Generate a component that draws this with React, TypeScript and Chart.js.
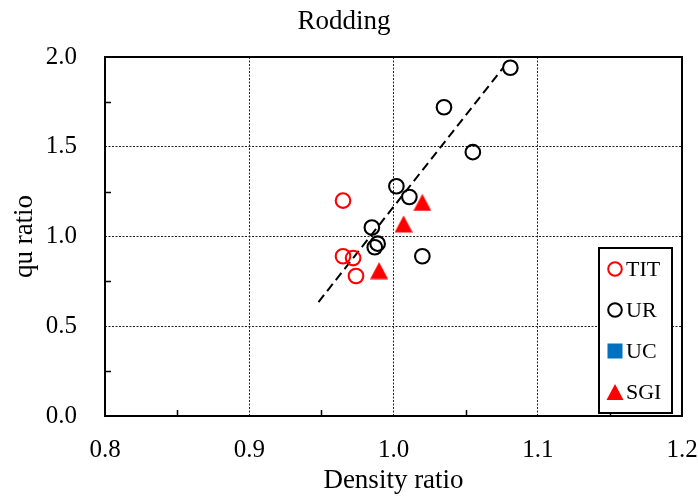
import React, { useEffect, useRef } from 'react';
import { Chart, registerables } from 'chart.js';

Chart.register(...registerables);

// ---- data ----
const titDensity = [0.965, 0.965, 0.972, 0.974];
const titQu = [1.2, 0.89, 0.88, 0.78];

const urDensity = [1.081, 1.035, 1.055, 1.002, 1.011, 0.985, 0.987, 0.989, 1.02];
const urQu = [1.94, 1.72, 1.47, 1.28, 1.22, 1.05, 0.94, 0.96, 0.89];

const ucDensity: number[] = [];
const ucQu: number[] = [];

const sgiDensity = [1.02, 1.007, 0.99];
const sgiQu = [1.19, 1.07, 0.81];

const trendDensity = [0.948, 1.076];
const trendQu = [0.635, 1.94];

const xTickValues = [0.8, 0.9, 1.0, 1.1, 1.2];
const yTickValues = [0.0, 0.5, 1.0, 1.5, 2.0];
const xMinorTicks = [0.85, 0.95, 1.05, 1.15];
const yMinorTicks = [0.25, 0.75, 1.25, 1.75];

const seriesLabels = ['TIT', 'UR', 'UC', 'SGI'];

const SERIF = '"Liberation Serif", "Times New Roman", serif';
const RED = '#FF0000';
const BLUE = '#0070C0';

const pts = (xs: number[], ys: number[]) => xs.map((x, i) => ({ x, y: ys[i] }));

function triangleSprite(color: string, size: number): HTMLCanvasElement {
  const c = document.createElement('canvas');
  c.width = size;
  c.height = size;
  const g = c.getContext('2d')!;
  g.fillStyle = color;
  g.beginPath();
  g.moveTo(size / 2, 0.5);
  g.lineTo(size, size - 0.5);
  g.lineTo(0, size - 0.5);
  g.closePath();
  g.fill();
  return c;
}

type Marker = 'circle' | 'square' | 'triangle';

function drawMarker(ctx: CanvasRenderingContext2D, kind: Marker, color: string, x: number, y: number) {
  ctx.save();
  if (kind === 'circle') {
    ctx.strokeStyle = color;
    ctx.lineWidth = 2;
    ctx.beginPath();
    ctx.arc(x, y, 6.8, 0, Math.PI * 2);
    ctx.stroke();
  } else if (kind === 'square') {
    ctx.fillStyle = color;
    ctx.fillRect(x - 7.5, y - 7.5, 15, 15);
  } else {
    ctx.fillStyle = color;
    ctx.beginPath();
    ctx.moveTo(x, y - 8);
    ctx.lineTo(x + 8.5, y + 8);
    ctx.lineTo(x - 8.5, y + 8);
    ctx.closePath();
    ctx.fill();
  }
  ctx.restore();
}

// frame around the plot, inward minor ticks and the boxed legend
const framePlugin = {
  id: 'frameAndLegend',
  afterDraw(chart: any) {
    const { ctx, chartArea } = chart;
    const xs = chart.scales.x;
    const ys = chart.scales.y;
    ctx.save();
    ctx.strokeStyle = '#000';
    ctx.lineWidth = 1.5;
    ctx.beginPath();
    for (const v of xMinorTicks) {
      const px = Math.round(xs.getPixelForValue(v)) + 0.5;
      ctx.moveTo(px, chartArea.bottom);
      ctx.lineTo(px, chartArea.bottom - 6);
    }
    for (const v of yMinorTicks) {
      const py = Math.round(ys.getPixelForValue(v)) + 0.5;
      ctx.moveTo(chartArea.left, py);
      ctx.lineTo(chartArea.left + 6, py);
    }
    ctx.stroke();

    ctx.lineWidth = 2;
    ctx.strokeRect(chartArea.left, chartArea.top, chartArea.right - chartArea.left, chartArea.bottom - chartArea.top);

    // legend
    const w = 73;
    const h = 165;
    const left = chartArea.right - 10 - w;
    const top = chartArea.bottom - 3 - h;
    ctx.fillStyle = '#fff';
    ctx.fillRect(left, top, w, h);
    ctx.strokeStyle = '#000';
    ctx.lineWidth = 2;
    ctx.strokeRect(left, top, w, h);

    const items: { label: string; kind: Marker; color: string }[] = chart.data.datasets
      .filter((d: any) => d.legendMarker)
      .map((d: any) => ({ label: d.label, kind: d.legendMarker, color: d.legendColor }));
    ctx.font = `22px ${SERIF}`;
    ctx.textBaseline = 'middle';
    ctx.textAlign = 'left';
    items.forEach((it, i) => {
      const cy = top + 21 + i * 41;
      drawMarker(ctx, it.kind, it.color, left + 16, cy);
      ctx.fillStyle = '#000';
      ctx.fillText(it.label, left + 27, cy + 1);
    });
    ctx.restore();
  },
};

export default function App() {
  const canvasRef = useRef<HTMLCanvasElement | null>(null);

  useEffect(() => {
    const canvas = canvasRef.current;
    if (!canvas) return;
    const tri = triangleSprite(RED, 18);

    const edge = (v: number, lo: number, hi: number) => Math.abs(v - lo) < 1e-6 || Math.abs(v - hi) < 1e-6;

    const chart = new Chart(canvas, {
      type: 'scatter',
      data: {
        datasets: [
          {
            label: seriesLabels[0],
            data: pts(titDensity, titQu),
            pointStyle: 'circle',
            pointRadius: 7.3,
            pointBorderWidth: 2.1,
            pointBorderColor: RED,
            pointBackgroundColor: 'rgba(0,0,0,0)',
            legendMarker: 'circle',
            legendColor: RED,
            order: 1,
          } as any,
          {
            label: seriesLabels[1],
            data: pts(urDensity, urQu),
            pointStyle: 'circle',
            pointRadius: 7.3,
            pointBorderWidth: 2.1,
            pointBorderColor: '#000',
            pointBackgroundColor: 'rgba(0,0,0,0)',
            legendMarker: 'circle',
            legendColor: '#000',
            order: 2,
          } as any,
          {
            label: seriesLabels[2],
            data: pts(ucDensity, ucQu),
            pointStyle: 'rect',
            pointRadius: 7,
            pointBorderWidth: 0,
            pointBackgroundColor: BLUE,
            legendMarker: 'square',
            legendColor: BLUE,
            order: 3,
          } as any,
          {
            label: seriesLabels[3],
            data: pts(sgiDensity, sgiQu),
            pointStyle: tri,
            pointRadius: 9,
            pointBorderWidth: 0,
            pointBackgroundColor: RED,
            legendMarker: 'triangle',
            legendColor: RED,
            order: 0,
          } as any,
          {
            type: 'line',
            label: 'trend',
            data: pts(trendDensity, trendQu),
            borderColor: '#000',
            borderWidth: 2,
            borderDash: [9, 5],
            pointRadius: 0,
            fill: false,
            showLine: true,
            order: 10,
          } as any,
        ],
      },
      options: {
        responsive: false,
        animation: false,
        events: [],
        layout: { padding: { left: 6, right: 16, top: 0, bottom: 0 } },
        plugins: {
          legend: { display: false },
          tooltip: { enabled: false },
          title: {
            display: true,
            text: 'Rodding',
            color: '#000',
            font: { family: SERIF, size: 27, weight: 'normal' },
            padding: { top: 6, bottom: 18.6 },
          },
        },
        scales: {
          x: {
            type: 'linear',
            min: 0.8,
            max: 1.2,
            afterBuildTicks: (s: any) => {
              s.ticks = xTickValues.map((value) => ({ value }));
            },
            afterFit: (s: any) => {
              s.height = 87;
              s.paddingLeft = 0;
              s.paddingRight = 0;
            },
            ticks: {
              padding: 19,
              color: '#000',
              font: { family: SERIF, size: 25 },
              callback: (v: any) => Number(v).toFixed(1),
              maxRotation: 0,
              autoSkip: false,
            },
            grid: {
              drawTicks: false,
              lineWidth: 1,
              color: (c: any) => (c.tick && edge(c.tick.value, 0.8, 1.2) ? 'rgba(0,0,0,0)' : '#222'),
            },
            border: { display: false, dash: [2, 1.5] },
            title: {
              display: true,
              text: 'Density ratio',
              color: '#000',
              font: { family: SERIF, size: 27 },
              padding: { top: 0, bottom: 5.8 },
            },
          },
          y: {
            type: 'linear',
            min: 0,
            max: 2,
            afterBuildTicks: (s: any) => {
              s.ticks = yTickValues.map((value) => ({ value }));
            },
            afterFit: (s: any) => {
              s.width = 99;
              s.paddingTop = 0;
              s.paddingBottom = 0;
            },
            ticks: {
              padding: 28,
              color: '#000',
              font: { family: SERIF, size: 25 },
              callback: (v: any) => Number(v).toFixed(1),
              autoSkip: false,
            },
            grid: {
              drawTicks: false,
              lineWidth: 1,
              color: (c: any) => (c.tick && edge(c.tick.value, 0, 2) ? 'rgba(0,0,0,0)' : '#222'),
            },
            border: { display: false, dash: [2, 1.5] },
            title: {
              display: true,
              text: 'qu ratio',
              color: '#000',
              font: { family: SERIF, size: 27 },
              padding: { top: 3, bottom: 0 },
            },
          },
        },
      } as any,
      plugins: [framePlugin],
    });

    return () => chart.destroy();
  }, []);

  return (
    <div style={{ position: 'fixed', left: 0, top: 0, width: 698, height: 503, background: '#fff' }}>
      <canvas ref={canvasRef} width={698} height={503} style={{ display: 'block', width: 698, height: 503 }} />
    </div>
  );
}
